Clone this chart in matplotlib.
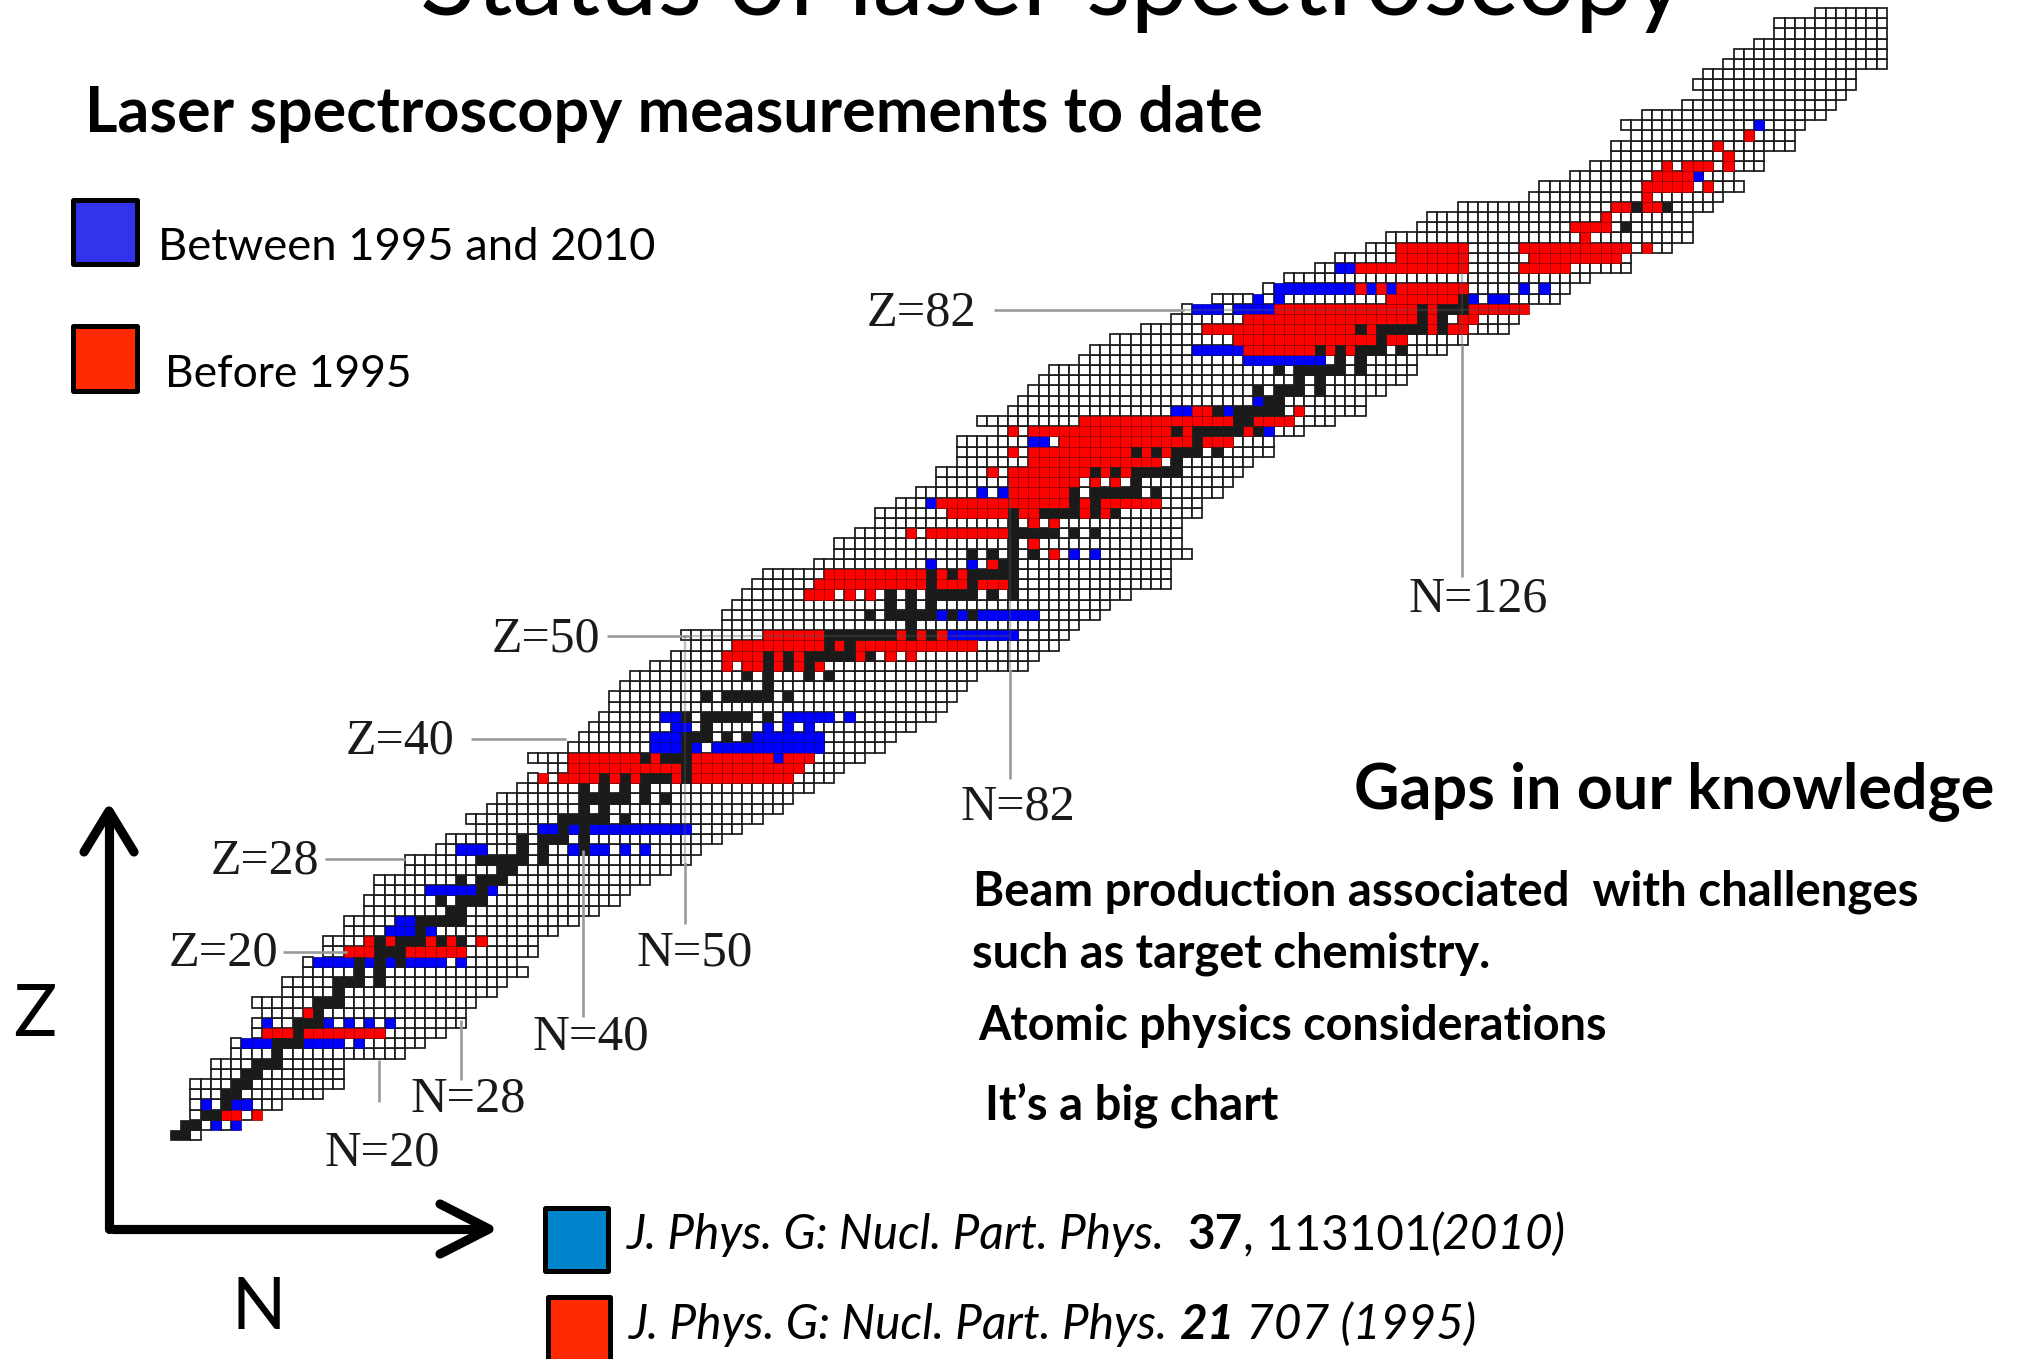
import numpy as np
import matplotlib
matplotlib.use("Agg")
import matplotlib.pyplot as plt
from matplotlib.patches import Rectangle

######################## data ########################
# first and last neutron number of the grid, for Z = 1, 2, 3, ...
first_n = [0, 1, 2, 2, 2, 2, 4, 4, 6, 6, 8, 8, 9, 8, 11, 11, 13, 13, 15, 15,
           17, 17, 19, 19, 20, 20, 23, 23, 26, 27, 30, 29, 31, 32, 34, 35, 37, 35, 39, 40,
           41, 42, 43, 43, 44, 45, 47, 49, 51, 50, 54, 54, 55, 56, 57, 58, 63, 65, 65, 67,
           69, 69, 71, 73, 75, 75, 77, 77, 77, 81, 79, 82, 83, 84, 85, 86, 89, 90, 92, 95,
           98, 99, 102, 107, 109, 112, 114, 117, 119, 122, 123, 126, 133, 134, 137, 139, 141, 141, 143, 142,
           144, 148, 150, 149, 150, 152, 153, 155, 157, 157, 161]
last_n = [2, 6, 8, 10, 14, 16, 16, 16, 22, 24, 26, 28, 28, 29, 31, 32, 34, 33, 35, 35,
          37, 39, 41, 43, 44, 46, 48, 50, 51, 53, 55, 57, 59, 60, 62, 64, 65, 67, 69, 70,
          72, 74, 75, 76, 77, 78, 83, 84, 86, 87, 88, 90, 91, 93, 97, 97, 97, 99, 98, 98,
          98, 100, 100, 102, 103, 104, 105, 107, 107, 110, 113, 116, 116, 118, 120, 121, 121, 124, 126, 130,
          131, 132, 135, 136, 138, 142, 142, 146, 148, 148, 148, 150, 151, 153, 152, 155, 155, 158, 158, 159,
          161, 162, 163, 164, 164, 167, 167, 167, 167, 167, 167]

# measured isotopes per Z, written as neutron numbers
black_rows = {1: "0-1", 2: "1-2", 3: "3-4", 4: "5", 5: "5-6", 6: "6-7", 7: "7-8", 8: "8-10", 9: "10",
              10: "10-12", 11: "12", 12: "12-14", 13: "14", 14: "14-16", 15: "16", 16: "16-18 20",
              17: "18 20", 18: "18 20 22", 19: "20-22", 20: "20 22-24 26 28", 21: "24", 22: "24-28",
              23: "27-28", 24: "26 28-30", 25: "30", 26: "28 30-32", 27: "32-33", 28: "30-34 36",
              29: "34 36 40", 30: "34 36-38 40", 31: "38 40", 32: "38-42 44", 33: "40 42",
              34: "40-44 46 48", 35: "40 42 44 46", 36: "42 44 46-48 50", 37: "50", 38: "46 48-50",
              39: "50", 40: "50-52 54 56", 41: "52", 42: "50 52-56 58", 44: "52 54-58 60",
              45: "58", 46: "56 58 62 64", 47: "58 60 62", 48: "58 60 62-66 68", 49: "64 66",
              50: "64-70 72 74", 51: "72", 52: "68 70-74 76 78", 53: "70 72 74",
              54: "70 72 74-78 80 82", 55: "74 78 82", 56: "74 76 78-82", 57: "81-82",
              58: "78 80 82 84", 59: "82", 60: "82-86 88 90", 61: "82", 62: "82 85-88 90 92",
              63: "88 90", 64: "88 90-94 96", 65: "94", 66: "90 92 94-98", 67: "98",
              68: "94 96 98-100 102", 69: "100", 70: "98 100-104 106", 71: "104-105",
              72: "102 104-108", 73: "107-108", 74: "106 108-110 112", 75: "110 112",
              76: "108 110-114 116", 77: "114 116", 78: "112 114 116-118 120", 79: "118",
              80: "116 118-122 124", 81: "122 124", 82: "122 124-126", 83: "126",
              90: "142", 92: "143 146"}
red_rows = {3: "5-6 8", 11: "9-11 13-20", 13: "13", 19: "17-19 23-28", 20: "19 21 25 27 30",
            36: "36 38-41 43 45 49 51-60", 37: "39-49 51-61", 38: "39-45 47 51-58 60-62",
            47: "54 56-57 59 61 63", 48: "54-57 59 61 67 70 72", 49: "55-63 65 67-78",
            50: "58-63 71 73 75", 54: "62-64 66 68", 55: "63-73 75-77 79-81", 56: "64-73 75 77",
            57: "80", 58: "86", 59: "84", 60: "72 74-81", 61: "84 86", 62: "76-81 83-84 89 91",
            63: "75-87 89 91-96", 64: "82-87", 65: "82-88 90 92", 66: "80 82-89 91 93", 67: "84-96",
            68: "82 84-93 95 97", 69: "87-99 101-103", 70: "82 84-97 99 105", 71: "89-103 106-109",
            72: "100-101 110", 78: "105-111 113 115", 79: "104-117 119-120",
            80: "101-115 117 123 125-126", 81: "105-121 123 126-127", 82: "108-121 123 127-132",
            83: "119-125", 84: "116 118 120-126", 86: "116-126 132-136", 87: "120-126 133-141",
            88: "120-126 132-142 144", 89: "138", 90: "137-140", 91: "140", 92: "141-142 144-145",
            93: "144", 94: "144-148 150", 95: "145-148", 96: "146 148-150 152", 97: "152",
            98: "151", 99: "154"}
blue_rows = {2: "4 6", 4: "3 6-7", 10: "7-9 13-16 18", 12: "9 15 17 19 21",
             18: "14-17 19 21 23-26 28", 21: "21-23 25", 22: "22-23", 25: "25-29 31",
             29: "28-30 39 41-42 44 46", 31: "36-37 39 41-50", 38: "59", 39: "47-49 51 53-63",
             40: "47-49 57-63", 41: "49-50 58 60 62", 42: "48-49 60-64 66", 50: "76-82",
             52: "75 77 79-84", 57: "74 78", 58: "88 90", 63: "74", 64: "79 81", 69: "84-85",
             70: "107", 72: "98-99 103", 73: "106", 77: "105-112", 78: "100-104",
             82: "100-102 104-107", 83: "106 108 127 129-130", 84: "108-115 117 119 132 134",
             86: "114-115", 95: "149", 100: "155"}

z_labels = ["Z=82", "Z=50", "Z=40", "Z=28", "Z=20"]
n_labels = ["N=126", "N=82", "N=50", "N=40", "N=28", "N=20"]


def parse_row(text):
    out = []
    for part in text.split():
        if "-" in part:
            a, b = part.split("-")
            out.extend(range(int(a), int(b) + 1))
        else:
            out.append(int(part))
    return out


W, H = 2018, 1359
PITCH_X, PITCH_Y = 10.22, 10.2
X0, Y0 = 175, 1135  # centre of the N=0, Z=1 cell
LATO = "Lato"
SERIF = "Liberation Serif"

fig = plt.figure(figsize=(W / 100, H / 100), dpi=100)

######################## nuclide chart ########################
ax = fig.add_axes([0, 0, 1, 1])
ax.axis("off")

# each cell takes the last category that names it
cell_kind = {}
for z, (a, b) in enumerate(zip(first_n, last_n), start=1):
    for n in range(a, b + 1):
        cell_kind[(z, n)] = "white"
for colour, rows in [("#0000ff", blue_rows), ("#ff0000", red_rows), ("#1a1a1a", black_rows)]:
    for z, text in rows.items():
        for n in parse_row(text):
            cell_kind[(z, n)] = colour

# white cells get the heavy grid, measured ones only a thin dark seam
for colour, edge, lw in [("white", "#1a1a1a", 1.25), ("#0000ff", "#000090", 0.5),
                         ("#ff0000", "#8a0000", 0.5), ("#1a1a1a", "#1a1a1a", 0.5)]:
    keys = [k for k, v in cell_kind.items() if v == colour]
    zs = np.array([k[0] for k in keys])
    ns = np.array([k[1] for k in keys])
    ax.bar(ns, np.ones(len(ns)), width=1, bottom=zs - 0.5, color=colour,
           edgecolor=edge, linewidth=lw)

ax.set_xlim(-X0 / PITCH_X, (W - X0) / PITCH_X)
ax.set_ylim(1 - (H - Y0) / PITCH_Y, 1 + Y0 / PITCH_Y)

######################## text, arrows and legends, in pixels ########################
over = fig.add_axes([0, 0, 1, 1])
over.set_xlim(0, W)
over.set_ylim(H, 0)
over.axis("off")
over.patch.set_alpha(0)


def fit_text(x0, x1, base, s, **kw):
    t = over.text(x0, base, s, va="baseline", ha="left", fontsize=20, **kw)
    w = t.get_window_extent(fig.canvas.get_renderer()).width
    t.set_fontsize(20 * (x1 - x0) / w)
    return t


def runs(x, base, parts, size):
    for s, kw in parts:
        t = over.text(x, base, s, va="baseline", ha="left", fontsize=size, family=LATO, **kw)
        x += t.get_window_extent(fig.canvas.get_renderer()).width


# guide lines from the labels, and their faint run through the chart
guide = dict(color="#9a9a9a", lw=1.9, solid_capstyle="butt")
for xs, ys in [((994, 1184), (310, 310)), ((607, 690), (636, 636)), ((471, 566), (739, 739)),
               ((325, 405), (859, 859)), ((283, 347), (952, 952)),
               ((1462, 1462), (345, 577)), ((1010, 1010), (669, 779)), ((685, 685), (862, 924)),
               ((583, 583), (850, 1017)), ((461, 461), (1020, 1080)), ((379, 379), (1060, 1102))]:
    over.plot(xs, ys, **guide)
for xs, ys in [((1184, 1524), (310, 310)), ((690, 1010), (636, 636)), ((1010, 1010), (480, 669)),
               ((1462, 1462), (250, 345)), ((685, 685), (636, 862))]:
    over.plot(xs, ys, color="#555555", lw=1.7, alpha=0.35, solid_capstyle="butt")

z_pos = [(867, 976, 325), (492, 600, 651), (346, 454, 754), (211, 319, 874), (169, 278, 966)]
for s, (a, b, base) in zip(z_labels, z_pos):
    fit_text(a, b, base, s, family=SERIF, color="#1a1a1a")
n_pos = [(1409, 1548, 611), (961, 1075, 820), (637, 753, 966), (533, 649, 1049), (410, 525, 1112),
         (324, 439, 1165)]
for s, (a, b, base) in zip(n_labels, n_pos):
    fit_text(a, b, base, s, family=SERIF, color="#1a1a1a")

fit_text(420, 1686, 15, "Status of laser spectroscopy", family=LATO, color="black")
fit_text(85, 1262, 132, "Laser spectroscopy measurements to date", family=LATO, fontweight="bold")
fit_text(158, 656, 260, "Between 1995 and 2010", family=LATO)
fit_text(165, 412, 387, "Before 1995", family=LATO)
fit_text(1354, 1995, 808, "Gaps in our knowledge", family=LATO, fontweight="bold")
fit_text(973, 1918, 905, "Beam production associated  with challenges", family=LATO, fontweight="bold")
fit_text(972, 1490, 967, "such as target chemistry.", family=LATO, fontweight="bold")
fit_text(978, 1607, 1040, "Atomic physics considerations", family=LATO, fontweight="bold")
fit_text(985, 1279, 1120, "It\u2019s a big chart", family=LATO, fontweight="bold")
fit_text(13, 56, 1036, "Z", family=LATO)
fit_text(231, 285, 1329, "N", family=LATO)

# legend boxes
for x, y, w, h, c in [(73, 200, 64, 64, "#3333ee"), (73, 326, 64, 65, "#ff2a00"),
                      (545, 1208, 63, 63, "#0085cc"), (548, 1297, 62, 80, "#ff2a00")]:
    over.add_patch(Rectangle((x, y), w, h, facecolor=c, edgecolor="black", lw=3.6, joinstyle="round"))

it = dict(style="italic")
runs(627, 1249, [("J. Phys. G: Nucl. Part. Phys.  ", it), ("37", dict(fontweight="bold")),
                 (", 113101", {}), ("(2010)", it)], 34.3)
runs(629, 1339, [("J. Phys. G: Nucl. Part. Phys. ", it),
                 ("21", dict(fontweight="bold", style="italic")), (" 707 (1995)", it)], 34.4)

# axis arrows
arrow = dict(color="black", lw=6.6, solid_capstyle="round", solid_joinstyle="round")
over.plot([109, 109], [1229, 813], **arrow)
over.plot([84, 109, 134], [852, 811, 852], **arrow)
over.plot([113, 487], [1229, 1229], **arrow)
over.plot([440, 489, 440], [1204, 1229, 1254], **arrow)

fig.savefig("out.png", dpi=100)
